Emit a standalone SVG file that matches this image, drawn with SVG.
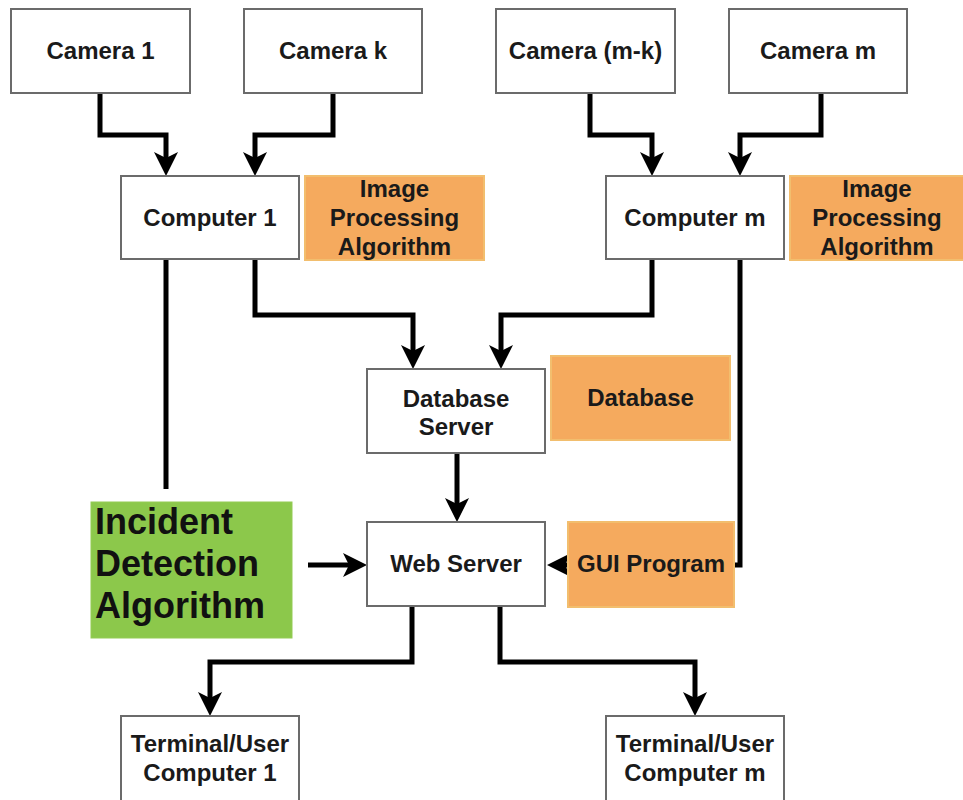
<svg xmlns="http://www.w3.org/2000/svg" width="963" height="800" viewBox="0 0 963 800">
<style>
.box{fill:#ffffff;stroke:#6b6b6b;stroke-width:2}
.org{fill:#F5AA5E;stroke:#F2BE6E;stroke-width:2}
.grn{fill:#8CC84B;stroke:#93CC55;stroke-width:1}
.t{font-family:"Liberation Sans",Arial,sans-serif;font-weight:bold;font-size:24px;fill:#1a1a1a;text-anchor:middle}
.big{font-family:"Liberation Sans",Arial,sans-serif;font-weight:bold;font-size:36px;fill:#111111}
.c{fill:none;stroke:#000000;stroke-width:5;stroke-linejoin:miter}
.a{marker-end:url(#arr)}
</style>
<defs>
<marker id="arr" markerUnits="userSpaceOnUse" viewBox="0 0 24 24" refX="16" refY="12" markerWidth="24" markerHeight="24" orient="auto">
<path d="M0,0 L24,12 L0,24 L6,12 z" fill="#000000"/>
</marker>
</defs>
<rect x="0" y="0" width="963" height="800" fill="#ffffff"/>
<g id="connectors">
<path class="c a" d="M100,93 V135 H166 V168"/>
<path class="c a" d="M333,93 V135 H255 V168"/>
<path class="c a" d="M590,93 V135 H652 V168"/>
<path class="c a" d="M821,93 V135 H740 V168"/>
<path class="c a" d="M255,259 V315 H413 V361"/>
<path class="c a" d="M652,259 V315 H501 V361"/>
<path class="c" d="M166,259 V489"/>
<path class="c a" d="M457,453 V514"/>
<path class="c a" d="M308,565 H359"/>
<path class="c a" d="M740,259 V565 H555"/>
<path class="c a" d="M412,606 V662 H210 V708"/>
<path class="c a" d="M500,606 V662 H695 V708"/>
</g>
<g id="camera1"><rect class="box" x="11" y="9" width="179" height="84"/><text class="t" x="100.5" y="59">Camera 1</text></g>
<g id="camerak"><rect class="box" x="244" y="9" width="178" height="84"/><text class="t" x="333" y="59">Camera k</text></g>
<g id="cameramk"><rect class="box" x="496" y="9" width="179" height="84"/><text class="t" x="585.5" y="59">Camera (m-k)</text></g>
<g id="cameram"><rect class="box" x="729" y="9" width="178" height="84"/><text class="t" x="818" y="59">Camera m</text></g>
<g id="computer1"><rect class="box" x="121" y="176" width="178" height="83"/><text class="t" x="210" y="226">Computer 1</text></g>
<g id="ipa1"><rect class="org" x="305" y="176" width="179" height="84"/><text class="t" x="394.5" y="197">Image</text><text class="t" x="394.5" y="226">Processing</text><text class="t" x="394.5" y="255">Algorithm</text></g>
<g id="computerm"><rect class="box" x="606" y="176" width="178" height="83"/><text class="t" x="695" y="226">Computer m</text></g>
<g id="ipam"><rect class="org" x="790" y="176" width="174" height="84"/><text class="t" x="877" y="197">Image</text><text class="t" x="877" y="226">Processing</text><text class="t" x="877" y="255">Algorithm</text></g>
<g id="dbserver"><rect class="box" x="367" y="369" width="178" height="84"/><text class="t" x="456" y="407">Database</text><text class="t" x="456" y="435">Server</text></g>
<g id="database"><rect class="org" x="551" y="356" width="179" height="84"/><text class="t" x="640.5" y="406">Database</text></g>
<g id="webserver"><rect class="box" x="367" y="522" width="178" height="84"/><text class="t" x="456" y="572">Web Server</text></g>
<g id="gui"><rect class="org" x="568" y="522" width="166" height="85"/><text class="t" x="651" y="572">GUI Program</text></g>
<g id="incident"><rect class="grn" x="91" y="502" width="201" height="136"/><text class="big" x="95" y="534">Incident</text><text class="big" x="95" y="576">Detection</text><text class="big" x="95" y="618">Algorithm</text></g>
<g id="terminal1"><rect class="box" x="121" y="716" width="178" height="92"/><text class="t" x="210" y="752">Terminal/User</text><text class="t" x="210" y="781">Computer 1</text></g>
<g id="terminalm"><rect class="box" x="606" y="716" width="178" height="92"/><text class="t" x="695" y="752">Terminal/User</text><text class="t" x="695" y="781">Computer m</text></g>
</svg>
